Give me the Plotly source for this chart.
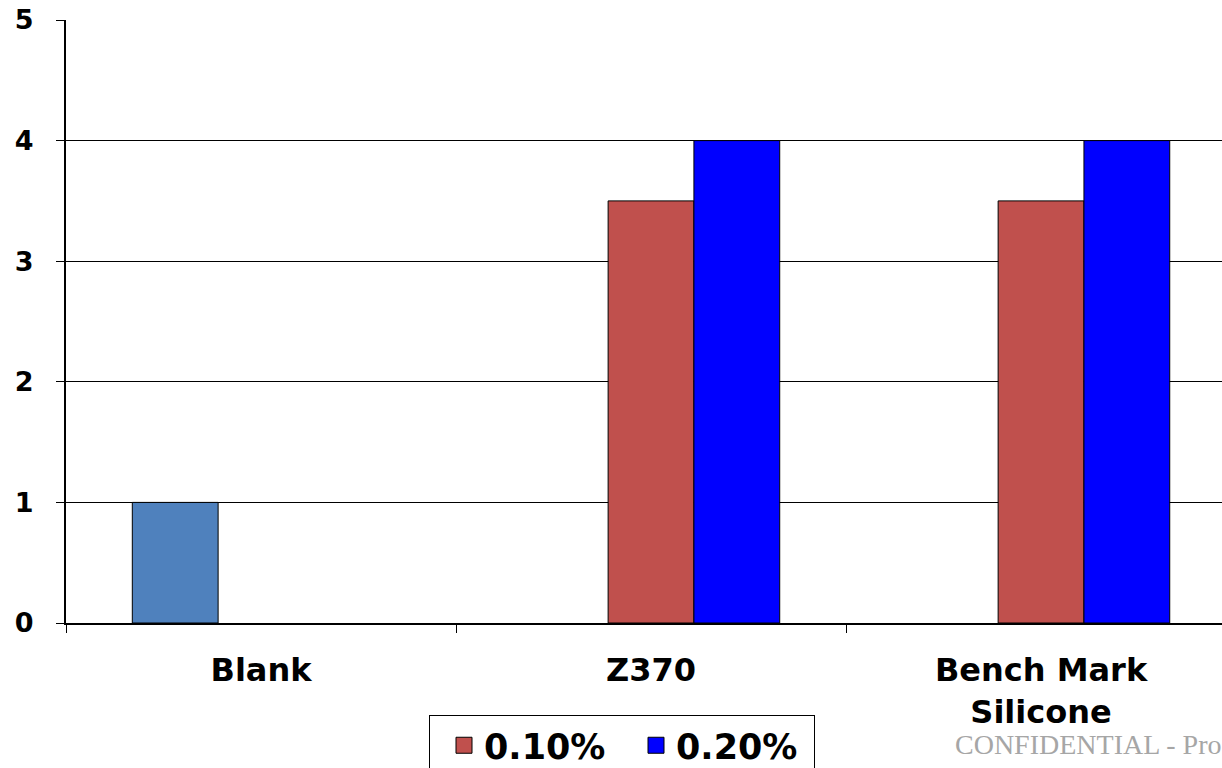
import plotly.graph_objects as go

categories = ["Blank", "Z370", "Bench Mark<br>Silicone"]
blank_series = [1, None, None]
series_010 = [None, 3.5, 3.5]
series_020 = [None, 4, 4]
y_ticks = [0, 1, 2, 3, 4, 5]

BOLD = dict(family="DejaVu Sans, Verdana, sans-serif", color="black", weight="bold")
RED, BLUE, STEEL = "#C0504D", "#0000FF", "#4F81BD"

fig = go.Figure()
fig.add_trace(go.Bar(x=categories, y=blank_series, name="Blank", showlegend=False,
                     marker=dict(color=STEEL, line=dict(color="black", width=1))))
fig.add_trace(go.Bar(x=categories, y=series_010, name="0.10%", showlegend=False, legendgroup="a",
                     marker=dict(color=RED, line=dict(color="black", width=1))))
fig.add_trace(go.Bar(x=categories, y=series_020, name="0.20%", showlegend=False, legendgroup="b",
                     marker=dict(color=BLUE, line=dict(color="black", width=1))))
# legend-only entries (larger square swatches)
for name, col, grp in [("0.10%", RED, "a"), ("0.20%", BLUE, "b")]:
    fig.add_trace(go.Scatter(x=[None], y=[None], mode="markers", name=name, legendgroup=grp,
                             marker=dict(symbol="square", size=22, color=col,
                                         line=dict(color="black", width=1))))

fig.update_layout(
    width=1222, height=768,
    margin=dict(l=66, r=0, t=20, b=145),
    paper_bgcolor="white", plot_bgcolor="white",
    barmode="group", bargap=0.34, bargroupgap=0,
    legend=dict(orientation="h", xref="container", yref="container",
                x=429 / 1222, y=1 - 715 / 768, xanchor="left", yanchor="top",
                bordercolor="black", borderwidth=1, bgcolor="white",
                font=dict(size=35, **BOLD), traceorder="normal", indentation=14,
                entrywidth=133, entrywidthmode="pixels", itemwidth=30),
    showlegend=True,
)
fig.update_xaxes(
    range=[-0.5, 2.464], showline=True, linecolor="black", linewidth=2, automargin=False,
    tickson="boundaries", ticks="outside", ticklen=8, tickcolor="black", tickwidth=1,
    tickfont=dict(size=32, **BOLD), ticklabelstandoff=18, showgrid=False,
)
fig.update_yaxes(
    range=[0, 5], tickvals=y_ticks, showline=True, linecolor="black", linewidth=2, automargin=False,
    ticks="outside", ticklen=8, tickcolor="black", tickwidth=1,
    tickfont=dict(size=27, **BOLD), ticklabelstandoff=17,
    showgrid=True, gridcolor="black", gridwidth=1, zeroline=False,
)
fig.add_annotation(text="CONFIDENTIAL - Pro", xref="paper", yref="paper",
                   x=0.767, y=-0.2007, xanchor="left", yanchor="middle", showarrow=False,
                   font=dict(family="Liberation Serif, Times New Roman, serif", size=28, color="#A6A6A6"))

fig.write_html("out.html", config={"displayModeBar": False},
               post_script="document.body.style.margin='0';")
